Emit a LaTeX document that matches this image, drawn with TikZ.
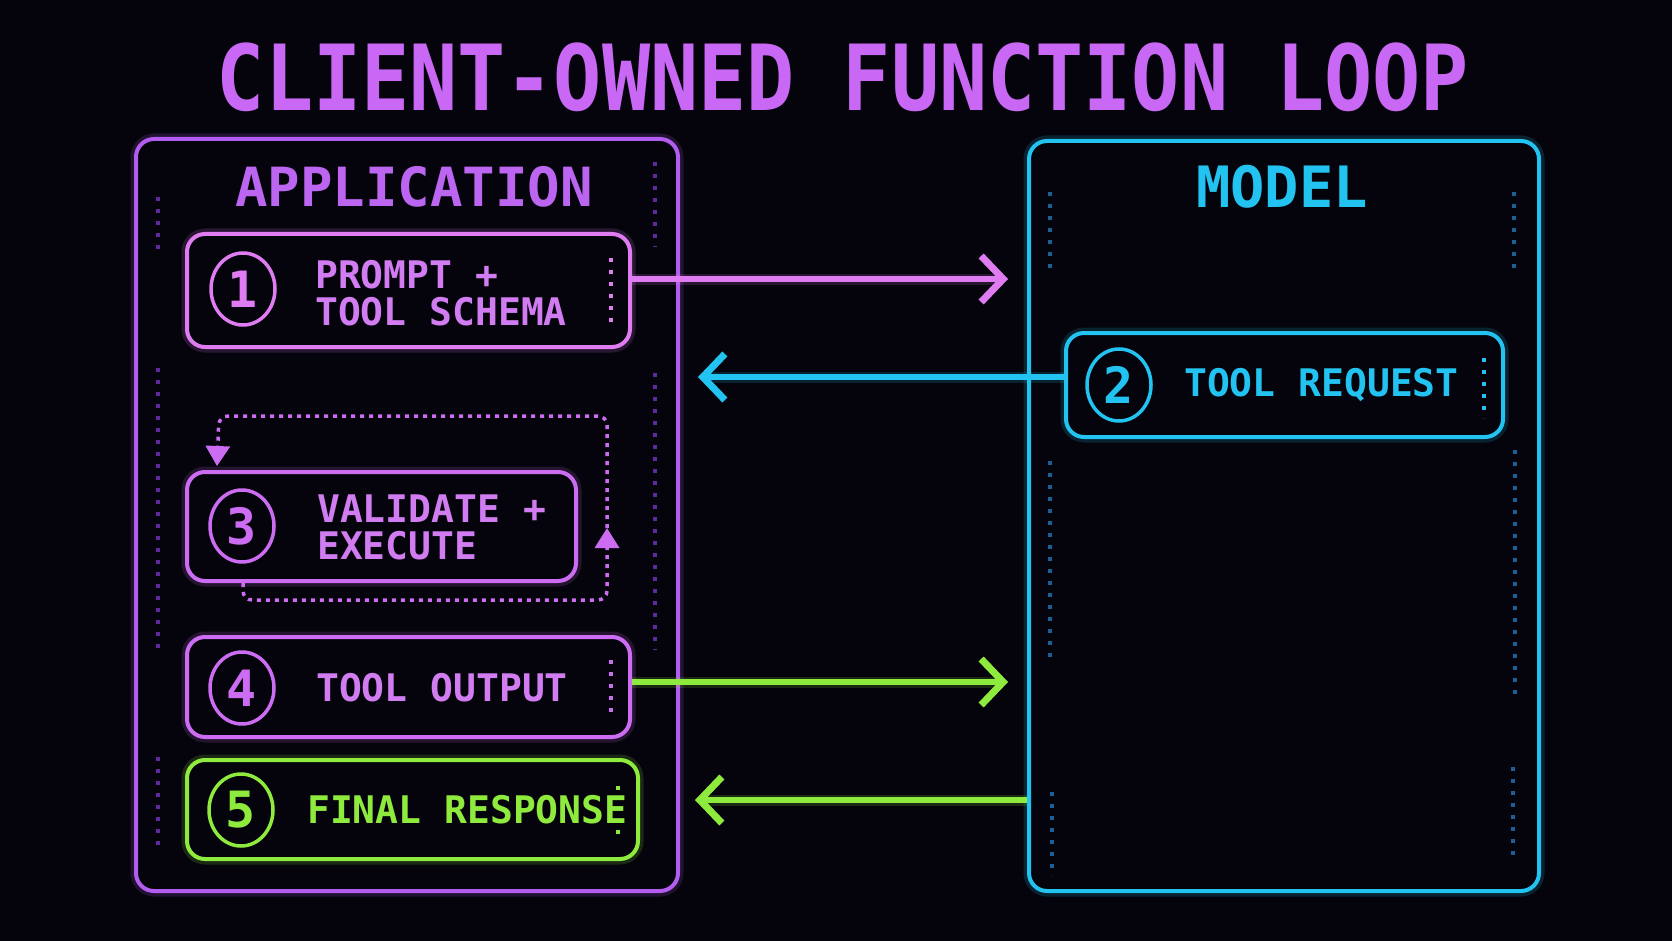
\documentclass[tikz,border=0pt]{standalone}
\usepackage{fontspec}
\newfontfamily\pixfont{DejaVu Sans Mono}
\usetikzlibrary{arrows.meta,shapes.geometric}
\definecolor{bg}{HTML}{05040C}
\definecolor{violetb}{HTML}{B35CF0}
\definecolor{pinkb}{HTML}{E07CF2}
\definecolor{magb}{HTML}{CC6CF2}
\definecolor{titlec}{HTML}{C868F4}
\definecolor{textc}{HTML}{D27CF2}
\definecolor{cyanb}{HTML}{22C3F0}
\definecolor{limeb}{HTML}{8FEA3E}
\definecolor{dimv}{HTML}{5E2A9E}
\definecolor{dimc}{HTML}{1B5F95}
\tikzset{
  glow/.style={preaction={draw=#1,line width=11pt,opacity=0.16}},
  frame/.style={draw=#1,line width=4pt,rounded corners=18pt,glow=#1,fill=bg,inner sep=0pt},
  numc/.style={ellipse,draw=#1,line width=3.5pt,text=#1,minimum width=64pt,minimum height=72pt,inner sep=0pt,
    font=\pixfont\bfseries\fontsize{50}{50}\selectfont},
  lbl/.style={text=#1,anchor=west,align=left,inner sep=0pt,font=\pixfont\bfseries\fontsize{38}{37}\selectfont},
  head/.style={text=#1,font=\pixfont\bfseries\fontsize{54}{54}\selectfont},
  flow/.style={draw=#1,line width=6pt,glow=#1,-{Straight Barb[length=22pt,width=46pt,line width=7pt]}},
  dots/.style={draw=#1,line width=4pt,dash pattern=on 4pt off 8pt},
  loopline/.style={draw=magb,line width=3.5pt,dash pattern=on 4pt off 5pt,rounded corners=9pt},
}
\begin{document}
\begin{tikzpicture}[x=1pt,y=-1pt]
\fill[bg] (0,0) rectangle (1672,941);
\useasboundingbox (0,0) rectangle (1672,941);

% title
\node[text=titlec,font=\pixfont\bfseries\fontsize{80}{80}\selectfont] (title) at (843,77)
  {\scalebox{1}[1.14]{CLIENT-OWNED FUNCTION LOOP}};

% outer frames
\node[frame=violetb,minimum width=542pt,minimum height=752pt] (app) at (407,515) {};
\node[frame=cyanb,minimum width=510pt,minimum height=750pt] (model) at (1284,516) {};

% decorative dots application
\draw[dots=dimv] (158,197) -- (158,251);
\draw[dots=dimv] (158,368) -- (158,650);
\draw[dots=dimv] (158,757) -- (158,845);
\draw[dots=dimv] (655,162) -- (655,247);
\draw[dots=dimv] (655,373) -- (655,650);
% decorative dots model
\draw[dots=dimc] (1050,192) -- (1050,270);
\draw[dots=dimc] (1050,461) -- (1050,662);
\draw[dots=dimc] (1052,792) -- (1052,876);
\draw[dots=dimc] (1514,192) -- (1514,270);
\draw[dots=dimc] (1515,450) -- (1515,695);
\draw[dots=dimc] (1513,767) -- (1513,862);

\node[head=violetb!70!textc] (apph) at (414,187) {APPLICATION};
\node[head=cyanb,font=\pixfont\bfseries\fontsize{57}{57}\selectfont] (modh) at (1282,187) {MODEL};

% step boxes
\node[frame=pinkb,minimum width=443pt,minimum height=113pt] (b1) at (408.5,290.5) {};
\node[frame=cyanb,minimum width=437pt,minimum height=104pt] (b2) at (1284.5,385) {};
\node[frame=magb,minimum width=389pt,minimum height=109pt] (b3) at (381.5,526.5) {};
\node[frame=magb,minimum width=443pt,minimum height=100pt] (b4) at (408.5,687) {};
\node[frame=limeb,minimum width=451pt,minimum height=99pt] (b5) at (412.5,809.5) {};

% inner dotted marks
\draw[dots=pinkb,line width=3.5pt] (611,258) -- (611,322);
\draw[dots=cyanb,line width=3.5pt] (1484,358) -- (1484,418);
\draw[dots=magb,line width=3.5pt] (611,660) -- (611,714);
\fill[limeb] (616,786) rectangle (620,790);
\fill[limeb] (616,830) rectangle (620,834);

% numbers
\node[numc=pinkb] (c1) at (243,289) {1};
\node[numc=cyanb] (c2) at (1119,385) {2};
\node[numc=magb] (c3) at (242,526) {3};
\node[numc=magb] (c4) at (242,688) {4};
\node[numc=limeb] (c5) at (241,810) {5};

% labels
\node[lbl=textc] (t1) at (315,293) {PROMPT +\\TOOL SCHEMA};
\node[lbl=cyanb] (t2) at (1184,385) {TOOL REQUEST};
\node[lbl=textc] (t3) at (317,527) {VALIDATE +\\EXECUTE};
\node[lbl=textc] (t4) at (316,688) {TOOL OUTPUT};
\node[lbl=limeb] (t5) at (307,810) {FINAL RESPONSE};

% flows
\coordinate (e1) at (1008,279);
\coordinate (e2) at (698,377);
\coordinate (e4) at (1008,682);
\coordinate (e5) at (695,800);
\draw[flow=pinkb] (b1.east |- e1) -- (e1);
\draw[flow=cyanb] (b2.west |- e2) -- (e2);
\draw[flow=limeb] (b4.east |- e4) -- (e4);
\draw[flow=limeb] (model.west |- e5) -- (e5);

% validation loop
\coordinate (lp) at (607,528);
\draw[loopline,-{Triangle[length=20pt,width=24pt]}] ([xshift=58pt]b3.south west) |- (607,600) -- (lp);
\draw[loopline,-{Triangle[length=20pt,width=24pt]}] (lp) |- (219,416) -- ([xshift=32pt,yshift=4pt]b3.north west);
\end{tikzpicture}
\end{document}
